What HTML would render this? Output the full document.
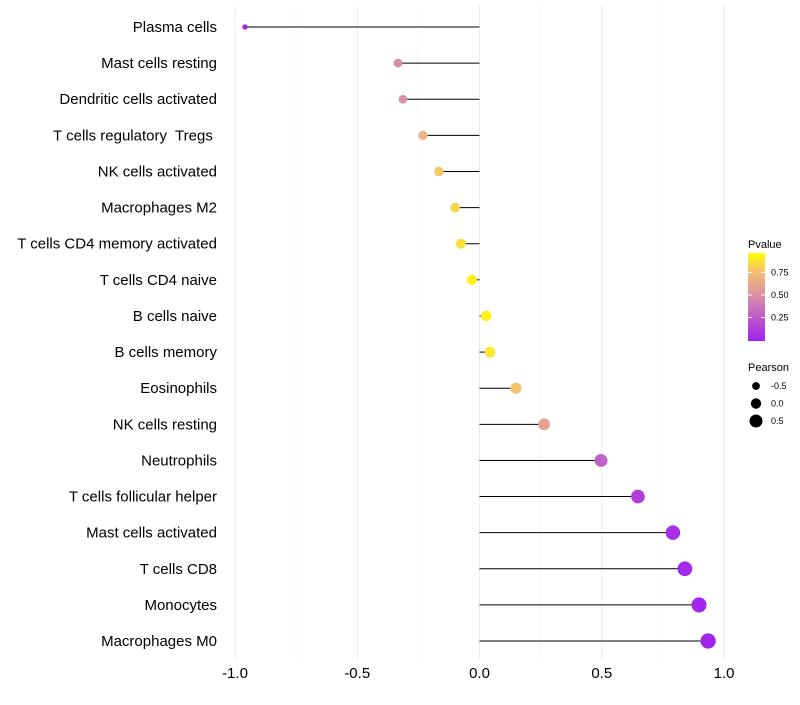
<!DOCTYPE html><html><head><meta charset="utf-8"><style>body{margin:0;background:#fff}svg{font-family:"Liberation Sans",sans-serif}text{white-space:pre}</style></head><body>
<svg id="c" width="800" height="700"></svg>
<script>
const categories=["Plasma cells","Mast cells resting","Dendritic cells activated","T cells regulatory  Tregs ","NK cells activated","Macrophages M2","T cells CD4 memory activated","T cells CD4 naive","B cells naive","B cells memory","Eosinophils","NK cells resting","Neutrophils","T cells follicular helper","Mast cells activated","T cells CD8","Monocytes","Macrophages M0"];
const pearson=[-0.959,-0.333,-0.313,-0.231,-0.166,-0.100,-0.076,-0.031,0.027,0.043,0.149,0.264,0.497,0.648,0.791,0.840,0.898,0.935];
const pvalues=[0.02,0.5,0.52,0.72,0.82,0.86,0.9,0.95,0.96,0.92,0.8,0.62,0.3,0.15,0.06,0.04,0.03,0.02];
const xTicks=[-1,-0.5,0,0.5,1];
const xTickLabels=["-1.0","-0.5","0.0","0.5","1.0"];
const pTicks=[0.25,0.5,0.75];
const sizeTicks=[-0.5,0,0.5];
const NS="http://www.w3.org/2000/svg",svg=document.getElementById('c');
function mk(t,a,p){const e=document.createElementNS(NS,t);for(const k in a)e.setAttribute(k,a[k]);(p||svg).appendChild(e);return e;}
const x=v=>479.5+v*244.5, y=i=>27+i*36.12, r=v=>5.2+2.6*v;
function lerp(a,b,t){return a.map((c,i)=>Math.round(c+(b[i]-c)*t));}
const stops=[[0,[160,32,240]],[0.5,[216,140,168]],[0.8,[245,195,110]],[1,[255,255,0]]];
function col(p){for(let i=1;i<stops.length;i++){if(p<=stops[i][0]){const t=(p-stops[i-1][0])/(stops[i][0]-stops[i-1][0]);return 'rgb('+lerp(stops[i-1][1],stops[i][1],t).join(',')+')';}}return 'rgb(255,255,0)';}
for(let v=-1;v<=1.001;v+=0.25){const maj=Math.abs(v*2-Math.round(v*2))<0.01;const g=mk('line',{x1:x(v),x2:x(v),y1:5,y2:660,stroke:maj?'#ebebeb':'#f4f4f4','stroke-width':maj?1:0.6});
}
xTicks.forEach((v,i)=>{const t=mk('text',{x:x(v),y:678,'text-anchor':'middle','font-size':15,fill:'#000'});t.textContent=xTickLabels[i];
});
categories.forEach((c,i)=>{
const t=mk('text',{x:217,y:y(i)+5,'text-anchor':'end','font-size':15,fill:'#000'});t.textContent=c;

const l=mk('line',{x1:x(0),x2:x(pearson[i]),y1:y(i),y2:y(i),stroke:'#000','stroke-width':1});

const d=mk('circle',{cx:x(pearson[i]),cy:y(i),r:r(pearson[i]),fill:col(pvalues[i])});

});
const lt=mk('text',{x:748,y:248,'font-size':11});lt.textContent='Pvalue';
const defs=mk('defs',{});const gr=mk('linearGradient',{id:'g',x1:0,y1:1,x2:0,y2:0},defs);
stops.forEach(s=>mk('stop',{offset:s[0],'stop-color':'rgb('+s[1].join(',')+')'},gr));
const py=p=>340-p*90;
const cb=mk('rect',{x:748,y:253,width:17,height:88,fill:'url(#g)'});
pTicks.forEach(p=>{mk('line',{x1:748,x2:752,y1:py(p),y2:py(p),stroke:'#fff'});mk('line',{x1:761,x2:765,y1:py(p),y2:py(p),stroke:'#fff'});
const t=mk('text',{x:771,y:py(p)+3,'font-size':9});t.textContent=p.toFixed(2);});
const st=mk('text',{x:748,y:371,'font-size':11});st.textContent='Pearson';
sizeTicks.forEach((v,i)=>{const cy=386+i*17.5;const c=mk('circle',{cx:756,cy:cy,r:r(v),fill:'#000'});
const t=mk('text',{x:771,y:cy+3,'font-size':9});t.textContent=v.toFixed(1);});
</script></body></html>
